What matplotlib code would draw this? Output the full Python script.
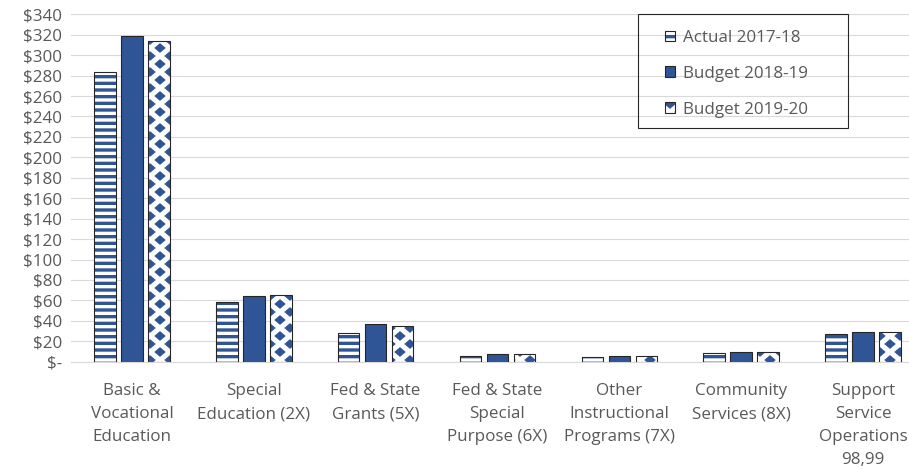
import numpy as np
import matplotlib
matplotlib.use('Agg')
import matplotlib.pyplot as plt
import matplotlib.hatch as mhatch
from matplotlib.path import Path
from matplotlib.patches import Patch, Rectangle
from matplotlib.ticker import FuncFormatter, MultipleLocator

# Datos (millones de dólares)
categorias = ['Basic &\nVocational\nEducation',
              'Special\nEducation (2X)',
              'Fed & State\nGrants (5X)',
              'Fed & State\nSpecial\nPurpose (6X)',
              'Other\nInstructional\nPrograms (7X)',
              'Community\nServices (8X)',
              'Support\nService\nOperations\n98,99']
actual_1718 = [284, 58, 28, 5.6, 4.3, 8.2, 27.1]
budget_1819 = [319, 64, 36.6, 7.2, 5.6, 9.2, 28.6]
budget_1920 = [314, 65, 35.2, 7.2, 5.4, 9.2, 28.6]
series_labels = ['Actual 2017-18', 'Budget 2018-19', 'Budget 2019-20']

AZUL = '#2F5597'
BORDE = '#262626'
GRIS_TEXTO = '#595959'
GRIS_GRID = '#D9D9D9'
DPI = 80


# Patron de rombos (sustituye al de estrellas '*')
class DiamondHatch(mhatch.HatchPatternBase):
    hw = 0.040
    hh = 0.034

    def __init__(self, hatch, density):
        k = hatch.count('*')
        self.cols = 4 * k
        self.rows = 10 * k
        n = 0
        for r in range(self.rows + 1):
            n += self.cols + 1 if r % 2 == 0 else self.cols
        self.num_vertices = 5 * n if k else 0

    def set_vertices_and_codes(self, vertices, codes):
        forma = np.array([[0, self.hh], [-self.hw, 0], [0, -self.hh],
                          [self.hw, 0], [0, self.hh]])
        forma_codes = [Path.MOVETO, Path.LINETO, Path.LINETO,
                       Path.LINETO, Path.CLOSEPOLY]
        partes, partes_codes = [], []
        for r in range(self.rows + 1):
            if r % 2 == 0:
                xs = np.linspace(0, 1, self.cols + 1)
            else:
                xs = (np.arange(self.cols) + 0.5) / self.cols
            y = r / self.rows
            for x in xs:
                partes.append(forma + [x, y])
                partes_codes.append(forma_codes)
        np.concatenate(partes, out=vertices)
        np.concatenate(partes_codes, out=codes)


mhatch._hatch_types = [h for h in mhatch._hatch_types if h is not mhatch.Stars]
mhatch._hatch_types.append(DiamondHatch)

plt.rcParams['font.family'] = ['Open Sans', 'DejaVu Sans']
plt.rcParams['hatch.linewidth'] = 3.0

fs = 17 * 72 / DPI  # ~17 px

fig = plt.figure(figsize=(909 / DPI, 469 / DPI), dpi=DPI, facecolor='white')
ax = fig.add_axes([71 / 909, (469 - 361.7) / 469, 853 / 909, (361.7 - 14.3) / 469])

x = np.arange(len(categorias))
ancho = 0.177
paso = 0.222

estilos = [dict(color='white', edgecolor=AZUL, hatch='--'),
           dict(color=AZUL, edgecolor=AZUL),
           dict(color='white', edgecolor=AZUL, hatch='*')]
series = [actual_1718, budget_1819, budget_1920]

handles = []
for i, (vals, est) in enumerate(zip(series, estilos)):
    pos = x + (i - 1) * paso
    ax.bar(pos, vals, ancho, linewidth=0, zorder=2, **est)
    ax.bar(pos, vals, ancho, fill=False, edgecolor=BORDE, linewidth=1.0, zorder=3)
    handles.append((Patch(facecolor=est['color'], edgecolor=est['edgecolor'],
                          hatch=est.get('hatch'), linewidth=0),
                    Patch(fill=False, edgecolor=BORDE, linewidth=1.0)))

ax.set_xlim(-0.5, len(categorias) - 0.5)
ax.set_ylim(0, 340)
ax.yaxis.set_major_locator(MultipleLocator(20))
ax.yaxis.set_major_formatter(FuncFormatter(lambda v, p: '$-' if v == 0 else f'${v:.0f}'))

ax.set_axisbelow(True)
ax.yaxis.grid(True, color=GRIS_GRID, linewidth=1.0)
for s in ['top', 'right', 'left']:
    ax.spines[s].set_visible(False)
ax.spines['bottom'].set_color(GRIS_GRID)
ax.spines['bottom'].set_linewidth(1.0)

ax.set_xticks(x)
ax.set_xticklabels(categorias, fontsize=fs, color=GRIS_TEXTO, linespacing=1.6)
ax.tick_params(axis='x', length=0, pad=19)
ax.tick_params(axis='y', length=0, pad=8, labelsize=fs, labelcolor=GRIS_TEXTO)

# Leyenda con marco propio
leg = fig.legend(handles, series_labels, loc='upper left',
                 bbox_to_anchor=(665 / 909, 1 - 30 / 469),
                 frameon=False, fontsize=fs, labelcolor=GRIS_TEXTO,
                 handlelength=0.6, handleheight=0.6, handletextpad=0.45,
                 labelspacing=1.17, borderpad=0, borderaxespad=0)
fig.patches.append(Rectangle((638 / 909, 1 - 128 / 469), 210 / 909, 114 / 469,
                             transform=fig.transFigure, fill=False,
                             edgecolor=BORDE, linewidth=1.0, zorder=5))

fig.savefig('out.png', dpi=DPI, facecolor='white')
